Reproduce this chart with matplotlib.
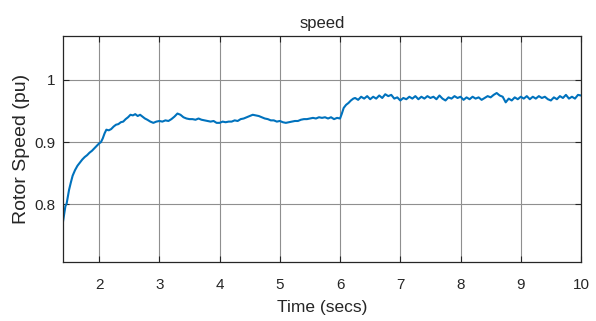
import matplotlib
matplotlib.use('Agg')
import matplotlib.pyplot as plt

plt.rcParams['font.family'] = ['Liberation Sans', 'DejaVu Sans']

# rotor speed trace
time_s = [1.40, 1.42, 1.44, 1.46, 1.48, 1.50, 1.53, 1.56, 1.60, 1.64, 1.68, 1.72, 1.76, 1.80,
          1.84, 1.88, 1.92, 1.96, 2.00, 2.03, 2.06, 2.09, 2.12, 2.16, 2.20, 2.24, 2.28, 2.32,
          2.36, 2.40, 2.44, 2.48, 2.52, 2.56, 2.60, 2.64, 2.68, 2.72, 2.76, 2.80, 2.85, 2.90,
          2.95, 3.00, 3.05, 3.10, 3.15, 3.20, 3.25, 3.30, 3.35, 3.40, 3.45, 3.50,
          3.55, 3.60, 3.65, 3.70, 3.75, 3.80, 3.85, 3.90, 3.95, 4.00, 4.05, 4.10, 4.15, 4.20,
          4.25, 4.30, 4.35, 4.40, 4.45, 4.50, 4.55, 4.60, 4.65, 4.70, 4.75, 4.80, 4.85, 4.90,
          4.95, 5.00, 5.05, 5.10, 5.15, 5.20, 5.25, 5.30, 5.35, 5.40, 5.45, 5.50, 5.55, 5.60,
          5.65, 5.70, 5.75, 5.80, 5.85, 5.90, 5.95, 6.00,
          6.03, 6.06, 6.10, 6.14, 6.18, 6.22,
          6.25, 6.30, 6.35, 6.40, 6.45, 6.50, 6.55, 6.60, 6.65, 6.70, 6.75, 6.80, 6.85, 6.90,
          6.95, 7.00, 7.05, 7.10, 7.15, 7.20, 7.25, 7.30, 7.35, 7.40, 7.45, 7.50, 7.55, 7.60,
          7.65, 7.70, 7.75, 7.80, 7.85, 7.90, 7.95, 8.00, 8.05, 8.10, 8.15, 8.20, 8.25, 8.30,
          8.35, 8.40, 8.45, 8.50, 8.55, 8.60, 8.65, 8.70, 8.75, 8.80, 8.85, 8.90, 8.95, 9.00,
          9.05, 9.10, 9.15, 9.20, 9.25, 9.30, 9.35, 9.40, 9.45, 9.50, 9.55, 9.60, 9.65, 9.70,
          9.75, 9.80, 9.85, 9.90, 9.95, 10.00]

speed_pu = [0.772, 0.785, 0.797, 0.801, 0.812, 0.823, 0.835, 0.846, 0.855, 0.862, 0.867, 0.872,
            0.876, 0.879, 0.883, 0.886, 0.890, 0.894, 0.898, 0.900, 0.906, 0.914, 0.920, 0.919,
            0.921, 0.925, 0.928, 0.929, 0.932, 0.933, 0.937, 0.940, 0.944, 0.943, 0.945, 0.942,
            0.944, 0.941, 0.938, 0.936, 0.933, 0.931, 0.933, 0.934, 0.933, 0.935, 0.934, 0.937,
            0.941, 0.946, 0.944, 0.940, 0.938, 0.937,
            0.937, 0.936, 0.938, 0.936, 0.935, 0.934, 0.933, 0.934, 0.931, 0.931, 0.933, 0.932,
            0.933, 0.933, 0.935, 0.934, 0.937, 0.938, 0.940, 0.942, 0.944, 0.943, 0.942, 0.940,
            0.938, 0.937, 0.935, 0.935, 0.933, 0.934, 0.932, 0.931, 0.932, 0.933, 0.934, 0.934,
            0.936, 0.937, 0.937, 0.938, 0.939, 0.938, 0.940, 0.939, 0.940, 0.938, 0.940, 0.937,
            0.939, 0.938,
            0.946, 0.955, 0.960, 0.963, 0.967, 0.970,
            0.971, 0.968, 0.973, 0.970, 0.974, 0.969, 0.973, 0.970, 0.975, 0.971, 0.977, 0.974,
            0.976, 0.970, 0.972, 0.967, 0.971, 0.969, 0.973, 0.970, 0.974, 0.969, 0.973, 0.970,
            0.974, 0.971, 0.973, 0.969, 0.975, 0.970, 0.967, 0.972, 0.970, 0.974, 0.971, 0.973,
            0.968, 0.972, 0.969, 0.973, 0.970, 0.972, 0.968, 0.971, 0.974, 0.972, 0.976, 0.979,
            0.975, 0.973, 0.964, 0.970, 0.967, 0.972, 0.969, 0.973, 0.970, 0.974, 0.969, 0.973,
            0.970, 0.974, 0.971, 0.973, 0.969, 0.967, 0.972, 0.969, 0.974, 0.971, 0.976, 0.970,
            0.973, 0.970, 0.976, 0.975]

x_ticks = [2, 3, 4, 5, 6, 7, 8, 9, 10]
y_ticks = [0.8, 0.9, 1.0]
y_labels = ['0.8', '0.9', '1']

fig = plt.figure(figsize=(5.96, 3.21), dpi=100)
ax = fig.add_axes([63 / 596, 1 - 262.3 / 321, 518 / 596, 226.3 / 321])

ax.plot(time_s, speed_pu, color='#0072BD', lw=1.5)

ax.set_xlim(1.4, 10)
ax.set_ylim(0.7067, 1.0707)
ax.set_xticks(x_ticks)
ax.set_yticks(y_ticks)
ax.set_yticklabels(y_labels)

ax.grid(True, color='#8f8f8f', lw=0.8)
ax.set_axisbelow(True)
ax.tick_params(direction='in', top=True, right=True, length=4, width=0.8,
               colors='#262626', labelsize=11)
ax.tick_params(axis='x', pad=11)
ax.tick_params(axis='y', pad=5.5)
for sp in ax.spines.values():
    sp.set_color('#262626')
    sp.set_linewidth(0.9)

ax.set_title('speed', fontsize=12, color='#262626', pad=6)
ax.set_xlabel('Time (secs)', fontsize=12.5, color='#262626', labelpad=6)
ax.set_ylabel('Rotor Speed (pu)', fontsize=14, color='#262626', labelpad=3)

fig.savefig('out.png', dpi=100)
